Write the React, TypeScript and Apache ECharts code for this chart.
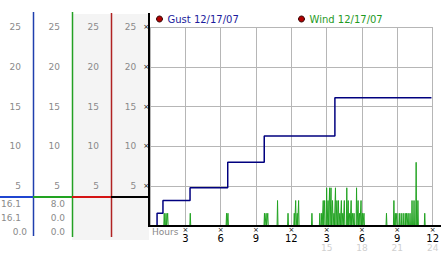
import { useEffect, useRef } from 'react';
import * as echarts from 'echarts';

const yMin = 0;
const yMax = 25;
const yStep = 5;
const xMin = 0;
const xMax = 24;
const xStep = 3;
const xTickLabels = ['3', '6', '9', '12', '3', '6', '9', '12'];
const xSecondLabels = ['', '', '', '', '15', '18', '21', '24'];
const gustName = 'Gust 12/17/07';
const windName = 'Wind 12/17/07';
const gustHours = [0, 0.6, 1.1, 3.4, 6.6, 9.7, 15.7, 23.9];
const gustValues = [0, 1.6, 3.2, 4.8, 8.0, 11.3, 16.1, 16.1];
const windHours = [
  1.21, 1.36, 1.5, 3.42, 6.5, 6.62, 9.72, 9.86, 10.0, 10.83, 11.72, 12.25, 12.37, 12.5, 12.62,
  13.75, 14.42, 14.58, 14.71, 14.83, 15.0, 15.12, 15.25, 15.37, 15.5, 15.62, 15.75, 15.87, 16.0,
  16.12, 16.25, 16.37, 16.5, 16.71, 16.83, 16.96, 17.08, 17.21, 17.33, 17.54, 17.67, 17.79, 17.92,
  18.04, 18.17, 20.08, 20.71, 20.83, 20.96, 21.17, 21.33, 21.5, 21.67, 21.79, 21.92, 22.08, 22.25,
  22.42, 22.6, 22.75, 23.33,
];
const windValues = [
  1.6, 1.6, 1.6, 1.6, 1.6, 1.6, 1.6, 1.6, 1.6, 3.2, 1.6, 1.6, 3.2, 1.6, 3.2,
  1.6, 1.6, 1.6, 3.2, 3.2, 4.8, 3.2, 4.8, 4.8, 3.2, 1.6, 4.8, 3.2, 3.2,
  1.6, 3.2, 1.6, 3.2, 4.8, 3.2, 1.6, 3.2, 1.6, 1.6, 4.8, 3.2, 1.6, 3.2,
  1.6, 1.6, 1.6, 3.2, 1.6, 1.6, 1.6, 1.6, 1.6, 1.6, 1.6, 1.6, 1.6, 3.2,
  3.2, 8.0, 3.2, 1.6,
];
const readoutCol1 = ['16.1', '16.1', '0.0'];
const readoutCol2 = ['8.0', '0.0', '0.0'];

const FONT = '"DejaVu Sans", Verdana, sans-serif';
const GRAY_TXT = '#8a8a8a';
const GRID_COLOR = '#b6b6b6';

export default function App() {
  const ref = useRef<HTMLDivElement>(null);

  useEffect(() => {
    document.body.style.margin = '0';
    if (!ref.current) return;
    const chart = echarts.init(ref.current, undefined, { renderer: 'svg' });

    const windData: number[][] = [[0, 0]];
    windHours.forEach((h, i) => {
      windData.push([h - 0.04, 0], [h, windValues[i]], [h + 0.04, 0]);
    });
    windData.push([24, 0]);

    const sideAxis = (offset: number) => ({
      type: 'value',
      position: 'left',
      offset,
      min: yMin,
      max: yMax,
      interval: yStep,
      axisLine: { show: false },
      axisTick: { show: false },
      splitLine: { show: false },
      axisLabel: {
        margin: 12,
        color: GRAY_TXT,
        fontSize: 9,
        fontFamily: FONT,
        formatter: (v: number) => (v === 0 ? '' : String(v)),
      },
    });

    const vline = (x: number, y1: number, y2: number, color: string, w: number) => ({
      type: 'line',
      z: 100,
      shape: { x1: x, y1, x2: x, y2 },
      style: { stroke: color, lineWidth: w },
    });
    const hline = (x1: number, x2: number, y: number, color: string, w: number) => ({
      type: 'line',
      z: 100,
      shape: { x1, y1: y, x2, y2: y },
      style: { stroke: color, lineWidth: w },
    });
    const txt = (x: number, y: number, t: string, color: string, align: string) => ({
      type: 'text',
      z: 100,
      x,
      y,
      style: {
        text: t,
        fill: color,
        fontSize: 9,
        fontFamily: FONT,
        align,
        verticalAlign: 'middle',
      },
    });

    const graphics: any[] = [
      vline(33.5, 12, 236, '#1f3fae', 1.5),
      vline(72.5, 12, 237, '#23a023', 1.5),
      vline(111.5, 13, 237, '#b02222', 1.5),
      vline(149, 13, 227, '#000000', 2),
      hline(148, 441, 226, '#000000', 2),
      hline(0, 33, 197, '#1f45d0', 2),
      hline(33, 72, 197, '#22a322', 2),
      hline(72, 111, 197, '#d41414', 2),
      hline(111, 149, 197, '#000000', 2),
      txt(152, 232, 'Hours', GRAY_TXT, 'left'),
    ];
    const rowsY = [204, 218, 232];
    readoutCol1.forEach((t, i) => graphics.push(txt(i === 2 ? 27 : 21, rowsY[i], t, GRAY_TXT, 'right')));
    readoutCol2.forEach((t, i) => graphics.push(txt(65, rowsY[i], t, GRAY_TXT, 'right')));

    chart.setOption({
      animation: false,
      grid: { left: 150, right: 4, top: 27, bottom: 27 },
      legend: [
        {
          left: 156,
          top: 14,
          padding: 0,
          itemWidth: 6,
          itemHeight: 6,
          selectedMode: false,
          textStyle: { fontSize: 10, fontFamily: FONT },
          data: [
            {
              name: gustName,
              icon: 'circle',
              itemStyle: { color: '#b00000', borderColor: '#300000', borderWidth: 1 },
              textStyle: { color: '#1c1c9c' },
            },
          ],
        },
        {
          left: 298,
          top: 14,
          padding: 0,
          itemWidth: 6,
          itemHeight: 6,
          selectedMode: false,
          textStyle: { fontSize: 10, fontFamily: FONT },
          data: [
            {
              name: windName,
              icon: 'circle',
              itemStyle: { color: '#b00000', borderColor: '#300000', borderWidth: 1 },
              textStyle: { color: '#1f9a1f' },
            },
          ],
        },
      ],
      xAxis: {
        type: 'value',
        min: xMin,
        max: xMax,
        interval: xStep,
        axisLine: { show: false },
        axisTick: { show: false },
        splitLine: { show: true, lineStyle: { color: GRID_COLOR, width: 1 } },
        axisLabel: {
          margin: 1,
          showMinLabel: true,
          showMaxLabel: true,
          formatter: (v: number) => {
            if (v === 0) return '';
            const i = Math.round(v / xStep) - 1;
            const second = xSecondLabels[i];
            return `{m|×}\n{n|${xTickLabels[i]}}` + (second ? `\n{g|${second}}` : '');
          },
          rich: {
            m: { fontSize: 7, lineHeight: 6, color: '#000', fontFamily: FONT },
            n: { fontSize: 10, lineHeight: 10, color: '#000', fontFamily: FONT },
            g: { fontSize: 9, lineHeight: 9, color: '#cfcfcf', fontFamily: FONT },
          },
        },
      },
      yAxis: [
        {
          type: 'value',
          position: 'left',
          min: yMin,
          max: yMax,
          interval: yStep,
          axisLine: { show: false },
          axisTick: { show: false },
          splitLine: { show: true, lineStyle: { color: GRID_COLOR, width: 1 } },
          axisLabel: {
            margin: 1,
            formatter: (v: number) => (v === 0 ? '' : `{n|${v}}{m|×}`),
            rich: {
              n: { color: GRAY_TXT, fontSize: 9, fontFamily: FONT, padding: [0, 7, 0, 0] },
              m: { color: '#000', fontSize: 7, fontFamily: FONT },
            },
          },
        },
        sideAxis(39),
        sideAxis(78),
        sideAxis(117),
      ],
      series: [
        {
          name: gustName,
          type: 'line',
          step: 'end',
          symbol: 'none',
          z: 4,
          lineStyle: { color: '#00007f', width: 1.5 },
          itemStyle: { color: '#00007f' },
          data: gustHours.map((h, i) => [h, gustValues[i]]),
        },
        {
          name: windName,
          type: 'line',
          symbol: 'none',
          z: 3,
          lineStyle: { color: '#22a322', width: 1 },
          itemStyle: { color: '#22a322' },
          data: windData,
        },
      ],
      graphic: graphics,
    });

    return () => chart.dispose();
  }, []);

  return (
    <div style={{ position: 'relative', width: 442, height: 253, background: '#ffffff' }}>
      <div
        style={{
          position: 'absolute',
          left: 72,
          top: 14,
          width: 77,
          height: 226,
          background: '#f4f4f4',
        }}
      />
      <div
        style={{
          position: 'absolute',
          left: 150,
          top: 27,
          width: 288,
          height: 199,
          background: '#ffffff',
        }}
      />
      <div ref={ref} style={{ position: 'absolute', left: 0, top: 0, width: 442, height: 253 }} />
    </div>
  );
}
